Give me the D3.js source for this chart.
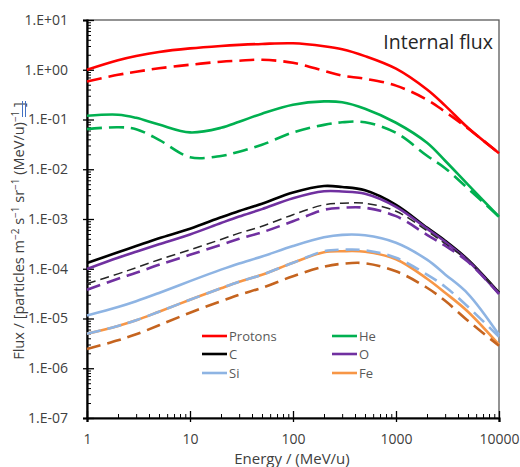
<!DOCTYPE html>
<html>
<head>
<meta charset="utf-8">
<script src="https://cdn.jsdelivr.net/npm/d3@7"></script>
<style>
  body { margin: 0; background: #fff; }
  text { font-family: "Open Sans", sans-serif; }
</style>
</head>
<body>
<div id="chart"></div>
<script>
// energy grid (MeV/u)
const energy = [1, 2, 3, 5, 10, 20, 30, 50, 100, 200, 300, 500, 1000, 2000, 3000, 5000, 10000];

const protonsSolid  = [1.0, 1.55, 1.885, 2.28, 2.69, 3.01, 3.16, 3.30, 3.40, 2.97, 2.58, 1.88, 1.05, 0.40, 0.19, 0.068, 0.021];
const protonsDashed = [0.58, 0.79, 0.91, 1.07, 1.26, 1.45, 1.52, 1.59, 1.38, 0.95, 0.76, 0.66, 0.48, 0.25, 0.143, 0.066, 0.021];
const heSolid  = [0.119, 0.125, 0.108, 0.079, 0.055, 0.068, 0.090, 0.131, 0.198, 0.231, 0.222, 0.165, 0.086, 0.034, 0.0148, 0.0049, 0.00111];
const heDashed = [0.064, 0.070, 0.064, 0.039, 0.0175, 0.0185, 0.0225, 0.031, 0.055, 0.078, 0.088, 0.088, 0.054, 0.0187, 0.0105, 0.0041, 0.00111];
const cSolid  = [1.30e-4, 2.15e-4, 2.86e-4, 4.1e-4, 6.37e-4, 1.08e-3, 1.45e-3, 2.03e-3, 3.4e-3, 4.6e-3, 4.4e-3, 3.78e-3, 1.93e-3, 6.7e-4, 3.66e-4, 1.52e-4, 3.3e-5];
const cDashed = [4.99e-5, 7.9e-5, 1.05e-4, 1.52e-4, 2.41e-4, 3.88e-4, 5.2e-4, 7.15e-4, 1.22e-3, 1.93e-3, 2.07e-3, 2.07e-3, 1.43e-3, 5.8e-4, 3.18e-4, 1.45e-4, 3.3e-5];
const oSolid  = [9.9e-5, 1.66e-4, 2.2e-4, 3.1e-4, 4.9e-4, 8.3e-4, 1.12e-3, 1.58e-3, 2.61e-3, 3.6e-3, 3.57e-3, 3.22e-3, 1.76e-3, 6.4e-4, 3.49e-4, 1.45e-4, 3.14e-5];
const oDashed = [3.78e-5, 6.3e-5, 8.3e-5, 1.20e-4, 1.91e-4, 3.03e-4, 4.0e-4, 5.4e-4, 9.0e-4, 1.53e-3, 1.68e-3, 1.68e-3, 1.14e-3, 4.8e-4, 2.9e-4, 1.38e-4, 3.14e-5];
const siSolid  = [1.15e-5, 1.70e-5, 2.22e-5, 3.26e-5, 5.64e-5, 9.6e-5, 1.28e-4, 1.76e-4, 2.86e-4, 4.28e-4, 4.8e-4, 4.7e-4, 3.33e-4, 1.52e-4, 7.7e-5, 3.14e-5, 4.7e-6];
const siDashed = [4.93e-6, 7.1e-6, 9.2e-6, 1.37e-5, 2.38e-5, 4.06e-5, 5.48e-5, 7.57e-5, 1.32e-4, 2.25e-4, 2.41e-4, 2.35e-4, 1.66e-4, 7.6e-5, 4.35e-5, 1.72e-5, 4.3e-6];
const feSolid  = [4.93e-6, 7.1e-6, 9.2e-6, 1.37e-5, 2.38e-5, 4.06e-5, 5.48e-5, 7.57e-5, 1.32e-4, 2.15e-4, 2.25e-4, 2.2e-4, 1.55e-4, 6.3e-5, 3.3e-5, 1.37e-5, 2.97e-6];
const feDashed = [2.43e-6, 3.65e-6, 4.82e-6, 7.3e-6, 1.31e-5, 2.22e-5, 3.0e-5, 4.15e-5, 7.07e-5, 1.10e-4, 1.26e-4, 1.29e-4, 8.9e-5, 4.15e-5, 2.27e-5, 9.0e-6, 2.83e-6];

const xTicks = [1, 10, 100, 1000, 10000];
const xTickLabels = ["1", "10", "100", "1000", "10000"];
const yTicks = [1e-7, 1e-6, 1e-5, 1e-4, 1e-3, 1e-2, 1e-1, 1, 10];
const yTickLabels = ["1.E-07", "1.E-06", "1.E-05", "1.E-04", "1.E-03", "1.E-02", "1.E-01", "1.E+00", "1.E+01"];

const legendNames = ["Protons", "He", "C", "O", "Si", "Fe"];
const colors = {
  Protons: "#ff0000", He: "#00b050", C: "#000000",
  O: "#7030a0", Si: "#8eb4e3", Fe: "#f79646"
};

const W = 520, H = 467;
const plot = {left: 87, right: 499, top: 20, bottom: 418};

const svg = d3.select("#chart").append("svg")
    .attr("width", W)
    .attr("height", H);

const x = d3.scaleLog().domain([1, 10000]).range([plot.left, plot.right]);
const y = d3.scaleLog().domain([1e-7, 10]).range([plot.bottom, plot.top]);

// plot frame
svg.append("rect")
    .attr("x", plot.left).attr("y", plot.top)
    .attr("width", plot.right - plot.left)
    .attr("height", plot.bottom - plot.top)
    .attr("fill", "none")
    .attr("stroke", "#595959")
    .attr("stroke-width", 1.3);

// minor ticks
const minorX = [];
for (let k = 0; k < 4; k++) for (let m = 2; m < 10; m++) minorX.push(m * Math.pow(10, k));
const minorY = [];
for (let k = -7; k < 1; k++) for (let m = 2; m < 10; m++) minorY.push(m * Math.pow(10, k));

const axisColor = "#000";

svg.append("g")
    .attr("transform", `translate(0,${plot.bottom})`)
    .call(d3.axisBottom(x).tickValues(minorX).tickSize(-4).tickFormat(""))
    .call(g => g.select(".domain").remove())
    .selectAll("line").attr("stroke", axisColor);

svg.append("g")
    .attr("transform", `translate(${plot.left},0)`)
    .call(d3.axisLeft(y).tickValues(minorY).tickSize(-4).tickFormat(""))
    .call(g => g.select(".domain").remove())
    .selectAll("line").attr("stroke", axisColor);

// major ticks inside
svg.append("g")
    .attr("transform", `translate(0,${plot.bottom})`)
    .call(d3.axisBottom(x).tickValues(xTicks).tickSize(-7).tickFormat(""))
    .call(g => g.select(".domain").remove())
    .selectAll("line").attr("stroke", axisColor).attr("stroke-width", 1.3);

svg.append("g")
    .attr("transform", `translate(${plot.left},0)`)
    .call(d3.axisLeft(y).tickValues(yTicks).tickSize(-7).tickFormat(""))
    .call(g => g.select(".domain").remove())
    .selectAll("line").attr("stroke", axisColor).attr("stroke-width", 1.3);

// labelled axes
const xAxis = svg.append("g")
    .attr("transform", `translate(0,${plot.bottom})`)
    .call(d3.axisBottom(x).tickValues(xTicks).tickSize(4).tickPadding(12)
        .tickFormat((d, i) => xTickLabels[i]));

const yAxis = svg.append("g")
    .attr("transform", `translate(${plot.left},0)`)
    .call(d3.axisLeft(y).tickValues(yTicks).tickSize(4).tickPadding(15)
        .tickFormat((d, i) => yTickLabels[i]));

[xAxis, yAxis].forEach(g => {
    g.select(".domain").attr("stroke", "#000").attr("stroke-width", 2.2);
    g.selectAll(".tick line").attr("stroke", "#000").attr("stroke-width", 1.3);
    g.selectAll(".tick text")
        .attr("fill", "#404040")
        .style("font-size", "14px")
        .style("font-family", "'Open Sans', sans-serif");
});

// series
const series = [
    {name: "Protons", values: protonsSolid, dash: null},
    {name: "He", values: heSolid, dash: null},
    {name: "C", values: cSolid, dash: null},
    {name: "O", values: oSolid, dash: null},
    {name: "Si", values: siSolid, dash: null},
    {name: "Fe", values: feSolid, dash: null},
    {name: "Protons", values: protonsDashed, dash: "15,7"},
    {name: "He", values: heDashed, dash: "15,7"},
    {name: "C", values: cDashed, dash: "9,5", width: 1.5, color: "#262626"},
    {name: "O", values: oDashed, dash: "14,7"},
    {name: "Si", values: siDashed, dash: "14,7"},
    {name: "Fe", values: feDashed, dash: "14,7", color: "#c5641f"}
];

const line = d3.line()
    .x(d => x(d[0]))
    .y(d => y(d[1]))
    .curve(d3.curveCatmullRom.alpha(0.5));

svg.append("g")
    .selectAll("path")
    .data(series)
    .enter()
    .append("path")
    .attr("d", s => line(energy.map((e, i) => [e, s.values[i]])))
    .attr("fill", "none")
    .attr("stroke", s => s.color || colors[s.name])
    .attr("stroke-width", s => s.width || 2.6)
    .attr("stroke-dasharray", s => s.dash)
    .attr("stroke-linejoin", "round");

// legend
const legend = svg.append("g").attr("class", "legend");
const legendCols = [202, 332];
const legendRows = [336, 354, 373];

legendNames.forEach((name, i) => {
    const gx = legendCols[i % 2], gy = legendRows[Math.floor(i / 2)];
    legend.append("line")
        .attr("x1", gx).attr("x2", gx + 25)
        .attr("y1", gy).attr("y2", gy)
        .attr("stroke", colors[name])
        .attr("stroke-width", 2.6);
    legend.append("text")
        .attr("x", gx + 27)
        .attr("y", gy)
        .attr("dy", "0.35em")
        .attr("fill", "#595959")
        .style("font-size", "13px")
        .text(name);
});

// inner title
svg.append("text")
    .attr("x", 493)
    .attr("y", 49)
    .attr("text-anchor", "end")
    .attr("fill", "#262626")
    .style("font-size", "19.5px")
    .text("Internal flux");

// x axis title
svg.append("text")
    .attr("x", 292)
    .attr("y", 464)
    .attr("text-anchor", "middle")
    .attr("fill", "#404040")
    .style("font-size", "15px")
    .text("Energy / (MeV/u)");

// y axis title with superscripts
const yTitle = svg.append("text")
    .attr("transform", "translate(24,231) rotate(-90)")
    .attr("text-anchor", "middle")
    .attr("fill", "#404040")
    .style("font-size", "14.5px");

const parts = [
    ["Flux / [particles m", false], ["\u22122", true], [" s", false], ["\u22121", true],
    [" sr", false], ["\u22121", true], [" (MeV/u)", false], ["\u22121", true], [" ]", false]
];
parts.forEach(([t, sup], i) => {
    const prevSup = i > 0 && parts[i - 1][1];
    yTitle.append("tspan")
        .attr("dy", sup ? -5 : (prevSup ? 5 : 0))
        .style("font-size", sup ? "10px" : null)
        .text(t);
});

// small blue marks next to the y title
svg.append("g")
    .selectAll("line")
    .data([22.5, 25.5])
    .enter()
    .append("line")
    .attr("x1", d => d).attr("x2", d => d)
    .attr("y1", 101).attr("y2", 117)
    .attr("stroke", "#4472c4")
    .attr("stroke-width", 1);
</script>
</body>
</html>
